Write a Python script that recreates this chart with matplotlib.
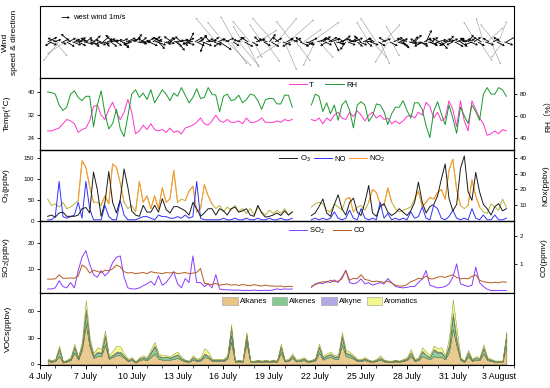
import numpy as np
import matplotlib
matplotlib.use('Agg')
import matplotlib.pyplot as plt
from matplotlib.patches import Patch

plt.rcParams['font.family'] = ['Liberation Sans', 'Noto Sans CJK SC', 'DejaVu Sans']
plt.rcParams['mathtext.fontset'] = 'custom'
plt.rcParams['mathtext.rm'] = 'Liberation Sans'
plt.rcParams['mathtext.it'] = 'Liberation Sans:italic'
plt.rcParams['axes.linewidth'] = 0.8

nan = np.nan

date_labels = ['4 July', '7 July', '10 July', '13 July', '16 July', '19 July',
               '22 July', '25 July', '28 July', '31 July', '3 August']

# wind, 3-hourly, rows = one day starting 4 July 12:00
wind_u = [1.2, 0.9, -0.8, 1.0, 1.5, -1.2, -2.0, 0.7,
          0.8, -2.2, 1.0, 0.9, -1.2, 1.1, 0.5, 1.3,
          1.0, 0.7, -0.6, 1.2, 0.8, -0.9, 1.2, 1.0,
          0.9, -0.7, 1.1, 1.3, -0.7, 0.8, 0.6, 1.1,
          1.3, 0.8, -0.9, 1.0, 0.7, -1.1, 1.0, 0.9,
          0.6, 1.2, 1.2, -0.8, -1.0, 0.9, 0.8, 1.2,
          1.4, 0.7, 0.5, -0.9, 0.9, 1.1, -0.6, 1.0,
          1.0, 1.2, 0.8, -0.7, -1.2, 0.9, 1.1, 0.8,
          0.7, -1.0, 1.3, 0.8, 0.9, 1.1, -0.8, 0.6,
          1.2, 0.9, 0.6, -1.1, -0.9, 1.0, 1.0, 0.7,
          0.8, 1.2, -0.5, 0.9, 1.1, -0.7, 0.9, 1.0,
          -2.5, 0.9, 1.5, -1.0, -2.0, 1.1, 3.0, -0.8,
          2.0, 0.8, -1.8, 1.0, 2.5, -0.9, -1.2, 1.1,
          1.6, -1.0, -2.2, 0.8, 1.0, 1.2, 2.4, -0.7,
          -1.5, 0.9, 1.8, -1.1, 0.8, 1.0, -2.6, 0.9,
          2.5, -0.8, -3.0, 1.1, 1.5, 0.9, 3.2, -1.0,
          -2.0, 0.9, 1.8, -1.0, 1.1, -0.8, 2.2, 1.0,
          0.9, 1.0, 3.5, -0.9, -1.5, 1.2, 1.8, 0.8,
          1.0, 0.9, -0.8, 1.1, 1.2, -0.7, 0.6, 1.0,
          0.9, 1.2, 1.1, -0.8, -0.7, 1.0, 1.0, 0.8,
          1.2, -0.9, 0.7, 1.0, -0.9, 1.1, 1.0, 0.7,
          -1.5, 1.0, 1.8, -0.8, -2.0, 0.9, 1.2, 1.1,
          2.0, -0.9, -1.6, 1.0, 1.0, 0.8, -1.2, 1.2,
          1.1, 0.9, 0.8, -1.0, -0.9, 1.1, 1.3, 0.7,
          0.9, -0.8, 1.2, 1.0, -1.0, 0.9, 0.7, 1.2,
          1.0, 0.8, -0.6, 1.1, 1.1, -0.9, 0.8, 1.0,
          1.2, -1.0, 0.6, 0.9, -0.8, 1.1, 1.0, 0.8,
          0.9, 1.1, 1.3, -0.8, 0.7, 1.0, -1.0, 0.9,
          -1.5, 0.9, 1.6, -1.0, -0.9, 1.1, 2.0, -0.8,
          1.2, 0.8, -1.8, 1.0, 1.0, -0.9, -1.4, 1.1,
          1.4]
wind_v = [0.6, -0.4, -0.5, 0.3, -1.8, 0.5, -2.4, -0.3,
          0.4, -1.5, -0.6, 0.5, 1.0, -0.4, 0.3, 0.2,
          -0.5, 0.6, 0.4, -0.3, 0.6, 0.5, -0.3, -0.6,
          0.8, 0.3, -0.4, -0.2, 0.3, 0.7, -0.6, 0.4,
          0.2, -0.6, 0.9, 0.3, -0.5, 0.4, 0.4, -0.7,
          -0.8, 0.5, 0.3, -0.4, -0.4, 0.6, 1.0, -0.2,
          0.0, 0.6, -0.3, 0.4, 0.5, -0.5, 0.2, 0.7,
          0.3, -0.4, -0.9, 0.5, 0.6, -0.3, -0.2, 0.6,
          0.5, 0.7, 0.2, -0.6, -1.1, 0.3, 0.7, -0.5,
          -0.4, 0.5, 1.2, -0.3, 0.3, 0.6, -0.5, 0.4,
          0.9, -0.5, -1.3, 0.4, 0.2, 0.8, 0.6, -0.4,
          3.0, 0.4, -1.0, -0.6, 2.5, 0.5, -3.0, 0.4,
          -2.8, -0.5, 3.2, 0.6, -3.0, 0.3, 2.0, -0.6,
          -3.2, 0.6, 2.6, -0.5, -2.0, 0.4, 1.5, 0.7,
          2.2, -0.5, -2.5, 0.4, 1.0, -0.6, 3.0, 0.5,
          3.0, 0.6, -2.0, -0.4, -3.5, 0.5, 2.8, -0.6,
          2.6, 0.5, -2.4, 0.4, -0.5, 0.6, 1.6, -0.3,
          -0.4, 0.5, 2.5, -0.6, -3.0, 0.4, -2.0, 0.6,
          0.7, -0.4, -0.5, 0.6, 0.4, 0.5, -1.2, -0.3,
          -0.3, 0.4, 0.8, 0.5, -1.0, -0.4, 0.2, 0.6,
          0.5, 0.3, -0.6, -0.4, 0.8, 0.5, 0.1, -0.6,
          2.5, -0.4, -2.0, 0.5, 3.0, -0.5, -2.8, 0.4,
          2.2, 0.6, -2.6, -0.5, -1.8, 0.4, 2.0, -0.4,
          0.4, -0.6, -0.8, 0.5, 0.6, -0.3, -0.2, 0.7,
          0.9, 0.4, -0.3, -0.6, -0.6, 0.5, 1.5, -0.3,
          -0.5, 0.6, 0.4, -0.4, 0.3, 0.5, -0.9, 0.4,
          0.2, -0.5, 0.8, 0.4, -0.4, -0.6, 0.5, 0.3,
          -0.6, 0.4, 0.3, 0.5, 0.9, -0.4, -0.4, 0.6,
          2.5, -0.5, -2.4, 0.6, 3.0, -0.4, 1.8, 0.5,
          -2.8, 0.4, 2.2, -0.5, 2.6, 0.6, -2.0, -0.4,
          0.8]

# 6-hourly values, rows = one day starting 4 July 12:00
temp = [26.5, 26.5, 27, 27.5,  29, 30.5, 30, 29,  26, 27, 27.5, 30,
        35, 35.5, 32, 30.5,  34, 36.5, 33, 30.5,  33, 37.5, 33, 25.5,
        26.5, 28.5, 27, 29,  27, 26.5, 27, 26,  27.5, 26, 26.5, 25.5,
        27.5, 28, 28.5, 29.5,  31, 29, 28.5, 30,  32, 30, 29.5, 30.5,
        29.5, 29.5, 30, 29,  31, 29.5, 29.5, 30,  31, 29.5, 29.5, 29.5,
        30, 29.5, 30.5, 30,  30.5, nan, nan, nan,  nan, 30.5, 30, 31,
        29, 31, 30, 32,  33, 31, 30.5, 33,  31.5, 33.5, 32, 30,
        32, 33, 31, 32,  30.5, 31, 29, 30,  29, 30, 31.5, 32,
        31, 33, 32, 36.5,  35, 31, 33, 30,  31, 37, 34, 28,
        37, 30, 26.5, 37,  34, 31, 29, 25,  25.5, 26.5, 25.5, 27,
        26.5]
rh = [82, 81.5, 80, 70,  65, 68, 80, 83,  77, 74, 78, 78,
      50, 70, 83, 62,  48, 53, 66, 48,  41, 60, 80, 84,
      77, 81, 75, 84,  72, 78, 84, 80,  74, 81, 78, 86,
      79, 72, 77, 85,  76, 77, 86, 80,  79, 64, 78, 80,
      74, 75, 79, 72,  75, 80, 79, 74,  66, 75, 76, 76,
      71, 71, 79, 79,  68, nan, nan, nan,  nan, 70, 80, 78,
      64, 72, 62, 70,  56, 70, 74, 65,  49, 70, 73, 70,
      55, 60, 71, 70,  64, 52, 62, 68,  68, 74, 65, 58,
      72, 72, 66, 51,  40, 64, 73, 62,  52, 70, 58, 44,
      68, 60, 53, 70,  64, 56, 80, 86,  80, 80, 86, 84,
      78]

o3 = [12, 15, 10, 20,  22, 12, 12, 12,  15, 30, 33, 20,
      117, 75, 12, 45,  118, 45, 20, 52,  124, 80, 25, 15,
      12, 38, 22, 22,  38, 22, 54, 28,  20, 35, 35, 30,
      25, 15, 45, 30,  12, 20, 30, 30,  15, 30, 25, 15,
      30, 34, 22, 25,  30, 15, 12, 38,  20, 10, 12, 15,
      20, 14, 25, 15,  22, nan, nan, nan,  nan, 14, 20, 35,
      53, 20, 12, 40,  63, 30, 15, 45,  55, 22, 14, 45,
      85, 20, 12, 35,  42, 22, 14, 20,  30, 22, 14, 25,
      45, 93, 45, 20,  35, 40, 60, 100,  136, 55, 25, 40,
      125, 155, 70, 50,  116, 70, 40, 30,  15, 35, 42, 25,
      30]
no = [1, 1, 3, 25,  3, 2, 3, 4,  12, 2, 25, 8,
      1, 1, 1, 10,  3, 1, 1, 13,  4, 1, 1, 1,
      2, 3, 3, 2,  1, 4, 3, 3,  2, 2, 3, 2,
      4, 2, 3, 25,  2, 1, 1, 1,  1, 1, 2, 1,
      1, 2, 1, 1,  2, 1, 1, 2,  1, 1, 2, 1,
      1, 2, 1, 1,  2, nan, nan, nan,  nan, 1, 2, 1,
      2, 1, 2, 6,  2, 1, 2, 7,  2, 1, 8, 2,
      1, 2, 1, 12,  2, 5, 1, 2,  1, 2, 1, 6,
      2, 3, 9, 2,  1, 10, 8, 2,  1, 3, 7, 2,
      1, 2, 1, 8,  2, 1, 4, 1,  1, 4, 1, 1,
      2]
no2 = [14, 10, 11, 9,  12, 8, 9, 11,  13, 38, 34, 22,
       12, 12, 10, 16,  11, 36, 34, 24,  12, 8, 10, 6,
       25, 12, 16, 8,  16, 8, 21, 12,  14, 32, 12, 14,
       13, 19, 22, 6,  8, 23, 16, 11,  8, 10, 6, 9,
       7, 10, 6, 8,  5, 8, 4, 9,  6, 4, 7, 5,
       7, 5, 8, 4,  6, nan, nan, nan,  nan, 9, 11, 12,
       11, 7, 6, 11,  9, 7, 14, 15,  6, 9, 10, 7,
       12, 20, 18, 11,  10, 21, 12, 8,  6, 7, 8, 9,
       14, 19, 9, 12,  15, 14, 18, 20,  14, 32, 39, 20,
       10, 8, 10, 26,  16, 9, 6, 5,  11, 9, 7, 14,
       9]

so2 = [2.6, 2.6, 3, 5.7,  3.5, 3, 5, 3,  9.5, 14.5, 17, 12,
       8, 7, 9.5, 7.5,  9, 12.5, 14.5, 15,  7, 3, 2.6, 2.6,
       3, 3.8, 4.5, 5.5,  4, 7.6, 4, 5,  7, 9, 4.5, 3,
       6.5, 5, 15, 5,  5, 3.5, 4.5, 3,  8, 2.5, 2.3, 2.3,
       2.2, 2.1, 2.2, 2.0,  2.1, 2.0, 2.2, 2.0,  2.0, 2.1, 2.0, 2.2,
       2.6, 2.4, 2.6, 2.5,  2.6, nan, nan, nan,  nan, 3.2, 4.5, 5,
       4.5, 5.5, 5, 6,  5, 7, 9.5, 5,  4.5, 5, 6.4, 4.5,
       5, 4, 4.5, 5,  4.5, 6.5, 5, 3.5,  3.2, 3, 3.2, 3.5,
       3.5, 5, 6.4, 9.5,  4, 3.5, 3, 3.2,  3.5, 4.5, 7, 12,
       4.5, 4, 3.5, 4,  10.8, 5, 3.5, 2.5,  2, 2, 2, 2,
       2]
co = [0.49, 0.49, 0.5, 0.64,  0.52, 0.52, 0.53, 0.52,  0.6, 0.98, 0.9, 0.7,
      0.8, 0.76, 0.72, 0.8,  0.78, 0.85, 0.98, 0.92,  0.75, 0.7, 0.72, 0.68,
      0.7, 0.72, 0.68, 0.75,  0.72, 0.7, 0.68, 0.72,  0.7, 0.74, 0.68, 0.7,
      0.72, 0.68, 0.7, 0.72,  0.86, 0.35, 0.32, 0.3,  0.34, 0.28, 0.3, 0.32,
      0.28, 0.3, 0.27, 0.3,  0.28, 0.26, 0.3, 0.27,  0.25, 0.28, 0.25, 0.25,
      0.24, 0.25, 0.22, 0.24,  0.23, nan, nan, nan,  nan, 0.24, 0.3, 0.35,
      0.4, 0.38, 0.45, 0.4,  0.42, 0.5, 0.8, 0.45,  0.52, 0.5, 0.64, 0.48,
      0.45, 0.4, 0.42, 0.4,  0.38, 0.42, 0.35, 0.28,  0.25, 0.25, 0.3, 0.4,
      0.45, 0.52, 0.5, 0.6,  0.5, 0.5, 0.56, 0.58,  0.55, 0.6, 0.64, 0.55,
      0.5, 0.52, 0.5, 0.58,  0.64, 0.45, 0.4, 0.38,  0.36, 0.38, 0.36, 0.4,
      0.38]

alkanes = [3.5, 2.5, 3.5, 9,  1.8, 3, 4.5, 13,  5, 17, 45, 19,
           7, 9, 9, 22,  6, 8, 10, 10,  7, 3.5, 4.5, 1.8,
           4.5, 5.5, 4.5, 8,  12, 6, 5, 5,  5, 6, 7, 4.5,
           3, 2.5, 5, 3.5,  4, 8, 7, 3.5,  3.5, 3.5, 3.5, 6,
           25, 2.5, 3, 2.5,  24, 2.5, 2.5, 3,  2.5, 3, 2.5, 3,
           2.5, 13, 3, 3.5,  7, 3, 3.5, 4.5,  2.5, 3, 4, 13,
           5, 7, 8, 6,  6, 22, 9, 8,  6, 3.5, 3.5, 4.5,
           3, 2.5, 3.5, 5,  3, 2.5, 2.5, 3,  2.5, 3.5, 4.5, 9,
           3.5, 4.5, 9, 7,  5.5, 9, 8, 8,  5.5, 14, 40, 20,
           4.5, 2.5, 9, 3.5,  5, 4.5, 12, 4.5,  3.5, 2.5, 2.5, 2.5,
           20]
alkenes = [1, 1, 1.2, 8,  0.6, 1, 1.5, 6,  1.5, 4, 14, 5,
           2, 4, 3, 9,  1.5, 2, 3, 3,  2, 1, 1.5, 0.5,
           1.5, 2, 1.5, 5,  8, 3, 2.5, 3,  2, 3, 3.5, 1.5,
           1, 0.8, 2.5, 1,  1.5, 3, 2, 1,  1, 1.2, 1, 2,
           8, 0.8, 1, 0.8,  7, 0.8, 0.8, 1,  0.8, 1, 0.8, 1,
           0.8, 6, 1, 1,  2.5, 1, 1.2, 1.5,  0.8, 1, 1.5, 6,
           2, 2.5, 3, 2,  2.5, 8, 3.5, 3,  2, 1, 1, 1.5,
           1, 0.8, 1, 2,  1, 0.8, 0.8, 1,  0.8, 1, 1.5, 4,
           1, 1.5, 5, 3,  2, 7, 5, 5,  2, 6, 15, 6,
           1.5, 0.8, 4, 1,  2, 1.5, 6, 1.5,  1, 0.8, 0.8, 0.8,
           12]
alkyne = [0.5, 0.3, 0.3, 1,  0.2, 0.3, 0.5, 1,  0.5, 1, 3, 1,
          0.5, 1, 1, 2,  0.5, 0.5, 1, 1,  0.5, 0.3, 0.5, 0.2,
          0.5, 0.5, 0.5, 1,  1, 0.5, 0.5, 0.5,  0.5, 0.5, 0.5, 0.5,
          0.3, 0.2, 0.5, 0.5,  0.5, 1, 0.5, 0.5,  0.5, 0.3, 0.5, 0.5,
          8, 0.2, 0.3, 0.2,  2, 0.2, 0.2, 0.3,  0.2, 0.3, 0.2, 0.3,
          0.2, 1, 0.3, 0.5,  0.5, 0.3, 0.3, 0.5,  0.2, 0.3, 0.5, 1,
          0.5, 0.5, 0.5, 0.5,  0.5, 2, 0.5, 0.5,  0.5, 0.5, 0.5, 0.5,
          0.3, 0.2, 0.5, 0.5,  0.3, 0.2, 0.2, 0.3,  0.2, 0.5, 0.5, 0.5,
          0.5, 0.5, 1, 0.5,  0.5, 1, 1, 1,  0.5, 2, 3, 2,
          0.5, 0.2, 0.5, 0.5,  0.5, 0.5, 1, 0.5,  0.5, 0.2, 0.2, 0.2,
          1]
aromatics = [1, 0.7, 1, 3,  0.4, 0.7, 1.5, 3,  1, 5, 10, 5,
             2.5, 5, 4, 5,  2, 4.5, 7, 6,  2.5, 1.2, 1.5, 0.5,
             1.5, 2, 1.5, 3,  4, 2.5, 2, 1.5,  1.5, 2.5, 3, 1.5,
             0.7, 0.5, 2, 1,  2, 6, 4.5, 1,  1, 1, 1, 1.5,
             4, 0.5, 0.7, 0.5,  3, 0.5, 0.5, 0.7,  0.5, 0.7, 0.5, 0.7,
             0.5, 3, 0.7, 1,  2, 0.7, 1, 1.5,  0.5, 0.7, 1, 3,
             1.5, 2, 2.5, 1.5,  2, 4, 3, 2.5,  1.5, 1, 1, 1.5,
             0.7, 0.5, 1, 2.5,  0.7, 0.5, 0.5, 0.7,  0.5, 1, 1.5, 3.5,
             1, 1.5, 4, 3.5,  2, 4, 4, 5,  2, 8, 15, 12,
             1.5, 0.5, 2.5, 1,  1.5, 1.5, 3, 1.5,  1, 0.5, 0.5, 0.5,
             3]

t = 0.5 + 0.25 * np.arange(len(temp))      # days after 4 July 00:00
tw = 0.5 + 0.125 * np.arange(len(wind_u))

fig = plt.figure(figsize=(5.5, 3.88), dpi=100)
axs = fig.subplots(5, 1, sharex=True, gridspec_kw=dict(hspace=0))
fig.subplots_adjust(left=0.0727, right=0.9345, bottom=0.0593, top=0.9845)

tick_fs = 4.5
lab_fs = 6
leg_fs = 5.5


def style(ax, right=False):
    ax.tick_params(axis='y', which='major', direction='out', length=2.5, width=0.6,
                   labelsize=tick_fs, pad=1.5, left=not right, right=right)
    ax.tick_params(axis='x', which='both', bottom=False, labelbottom=False)


# --- wind
ax = axs[0]
u = np.array(wind_u)
v = np.array(wind_v)
spd = np.hypot(u, v)
small = spd < 2
big = spd >= 2
ax.quiver(tw[big], np.zeros(big.sum()), u[big], v[big], color='#9a9a9a', angles='uv',
          scale_units='dots', scale=0.125, width=0.0012, headwidth=3.5, headlength=3,
          headaxislength=2.7, zorder=2)
qk = ax.quiver(tw[small], np.zeros(small.sum()), u[small], v[small], color='black',
               angles='uv', scale_units='dots', scale=0.125, width=0.0018,
               headwidth=3.5, headlength=3, headaxislength=2.7, zorder=3)
ax.quiverkey(qk, 0.063, 0.84, 1, 'west wind 1m/s', labelpos='E', coordinates='axes',
             labelsep=0.03, fontproperties={'size': leg_fs})
ax.set_ylim(-4.5, 4.5)
ax.set_yticks([])
ax.tick_params(axis='x', which='both', bottom=False, labelbottom=False)
ax.set_ylabel('Wind\nspeed & direction', fontsize=lab_fs, linespacing=1.3)
ax.yaxis.set_label_coords(-0.047, 0.5)

# --- temperature / RH
ax = axs[1]
l_t, = ax.plot(t, temp, color='#ff33cc', lw=0.7)
ax.set_ylim(20, 45)
ax.set_yticks([24, 32, 40])
style(ax)
ax.set_ylabel('Temp(°C)', fontsize=lab_fs)
ax.yaxis.set_label_coords(-0.061, 0.5)
axr = ax.twinx()
l_rh, = axr.plot(t, rh, color='#179a2a', lw=0.7)
axr.set_ylim(29, 95)
axr.set_yticks([40, 60, 80])
style(axr, right=True)
axr.set_ylabel('RH（%）', fontsize=lab_fs)
axr.yaxis.set_label_coords(1.062, 0.5)
ax.legend([l_t, l_rh], ['T', 'RH'], loc='upper left', bbox_to_anchor=(0.51, 1.04), ncol=2,
          frameon=False, fontsize=leg_fs, handlelength=2.4, columnspacing=1.5,
          handletextpad=0.3)

# --- O3 / NOx
ax = axs[2]
l_o3, = ax.plot(t, o3, color='#1a1a1a', lw=0.7, zorder=3)
ax.set_ylim(0, 170)
ax.set_yticks([0, 50, 100, 150])
style(ax)
ax.set_ylabel('O$_3$(ppbv)', fontsize=lab_fs)
ax.yaxis.set_label_coords(-0.059, 0.5)
axr = ax.twinx()
n2 = np.array(no2)
hi = n2 >= 15
hi = hi | np.roll(hi, 1) | np.roll(hi, -1)
axr.plot(t, n2, color='#b8b03a', lw=0.7)
l_no2, = axr.plot(t, np.where(hi, n2, nan), color='#ff9a30', lw=0.7)
l_no, = axr.plot(t, no, color='#3030ff', lw=0.7)
axr.set_ylim(0, 45)
axr.set_yticks([10, 20, 30, 40])
style(axr, right=True)
axr.set_ylabel('NOx(ppbv)', fontsize=lab_fs)
axr.yaxis.set_label_coords(1.059, 0.5)
ax.set_zorder(axr.get_zorder() + 1)
ax.patch.set_visible(False)
ax.legend([l_o3, l_no, l_no2], ['O$_3$', 'NO', 'NO$_2$'], loc='upper left',
          bbox_to_anchor=(0.49, 1.04), ncol=3, frameon=False, fontsize=leg_fs,
          handlelength=2.4, columnspacing=0.4, handletextpad=0.3)

# --- SO2 / CO
ax = axs[3]
l_so2, = ax.plot(t, so2, color='#8a3cff', lw=0.7, zorder=3)
ax.set_ylim(1, 28)
ax.set_yticks([10, 20])
style(ax)
ax.set_ylabel('SO$_2$(ppbv)', fontsize=lab_fs)
ax.yaxis.set_label_coords(-0.059, 0.5)
axr = ax.twinx()
l_co, = axr.plot(t, co, color='#b35c1e', lw=0.7)
axr.set_ylim(0, 2.5)
axr.set_yticks([1, 2])
style(axr, right=True)
axr.set_ylabel('CO(ppmv)', fontsize=lab_fs)
axr.yaxis.set_label_coords(1.057, 0.5)
ax.legend([l_so2, l_co], ['SO$_2$', 'CO'], loc='upper left', bbox_to_anchor=(0.51, 1.04),
          ncol=2, frameon=False, fontsize=leg_fs, handlelength=2.4, columnspacing=1.0,
          handletextpad=0.3)

# --- VOCs
ax = axs[4]
fills = ['#e8c585', '#84c98f', '#b4a8e4', '#f2f88c']
edges = ['#7a5a30', '#3d7a45', '#5a4a9a', '#8a9a30']
names = ['Alkanes', 'Alkenes', 'Alkyne', 'Aromatics']
polys = ax.stackplot(t, alkanes, alkenes, alkyne, aromatics, colors=fills, alpha=0.9)
for p, ec in zip(polys, edges):
    p.set_edgecolor(ec)
    p.set_linewidth(0.4)
ax.set_ylim(-1, 80)
ax.set_yticks([0, 30, 60])
ax.tick_params(axis='y', direction='out', length=2.5, width=0.6, labelsize=tick_fs, pad=1.5)
ax.set_ylabel('VOCs(ppbv)', fontsize=lab_fs)
ax.yaxis.set_label_coords(-0.059, 0.5)
ax.legend([Patch(facecolor=f, edgecolor='#999999', lw=0.4) for f in fills], names,
          loc='upper left', bbox_to_anchor=(0.37, 1.04), ncol=4, frameon=False,
          fontsize=leg_fs, handlelength=2.0, handleheight=1.1, columnspacing=0.6,
          handletextpad=0.3)

ax.set_xlim(0, 31)
ax.set_xticks(np.arange(0, 31, 3))
ax.set_xticks(np.arange(0, 32, 1), minor=True)
ax.set_xticklabels(date_labels)
ax.tick_params(axis='x', which='major', direction='out', length=3, width=0.7,
               labelsize=6.3, pad=2, bottom=True, labelbottom=True)
ax.tick_params(axis='x', which='minor', direction='out', length=1.8, width=0.5, bottom=True)

fig.savefig('out.png', dpi=100)
